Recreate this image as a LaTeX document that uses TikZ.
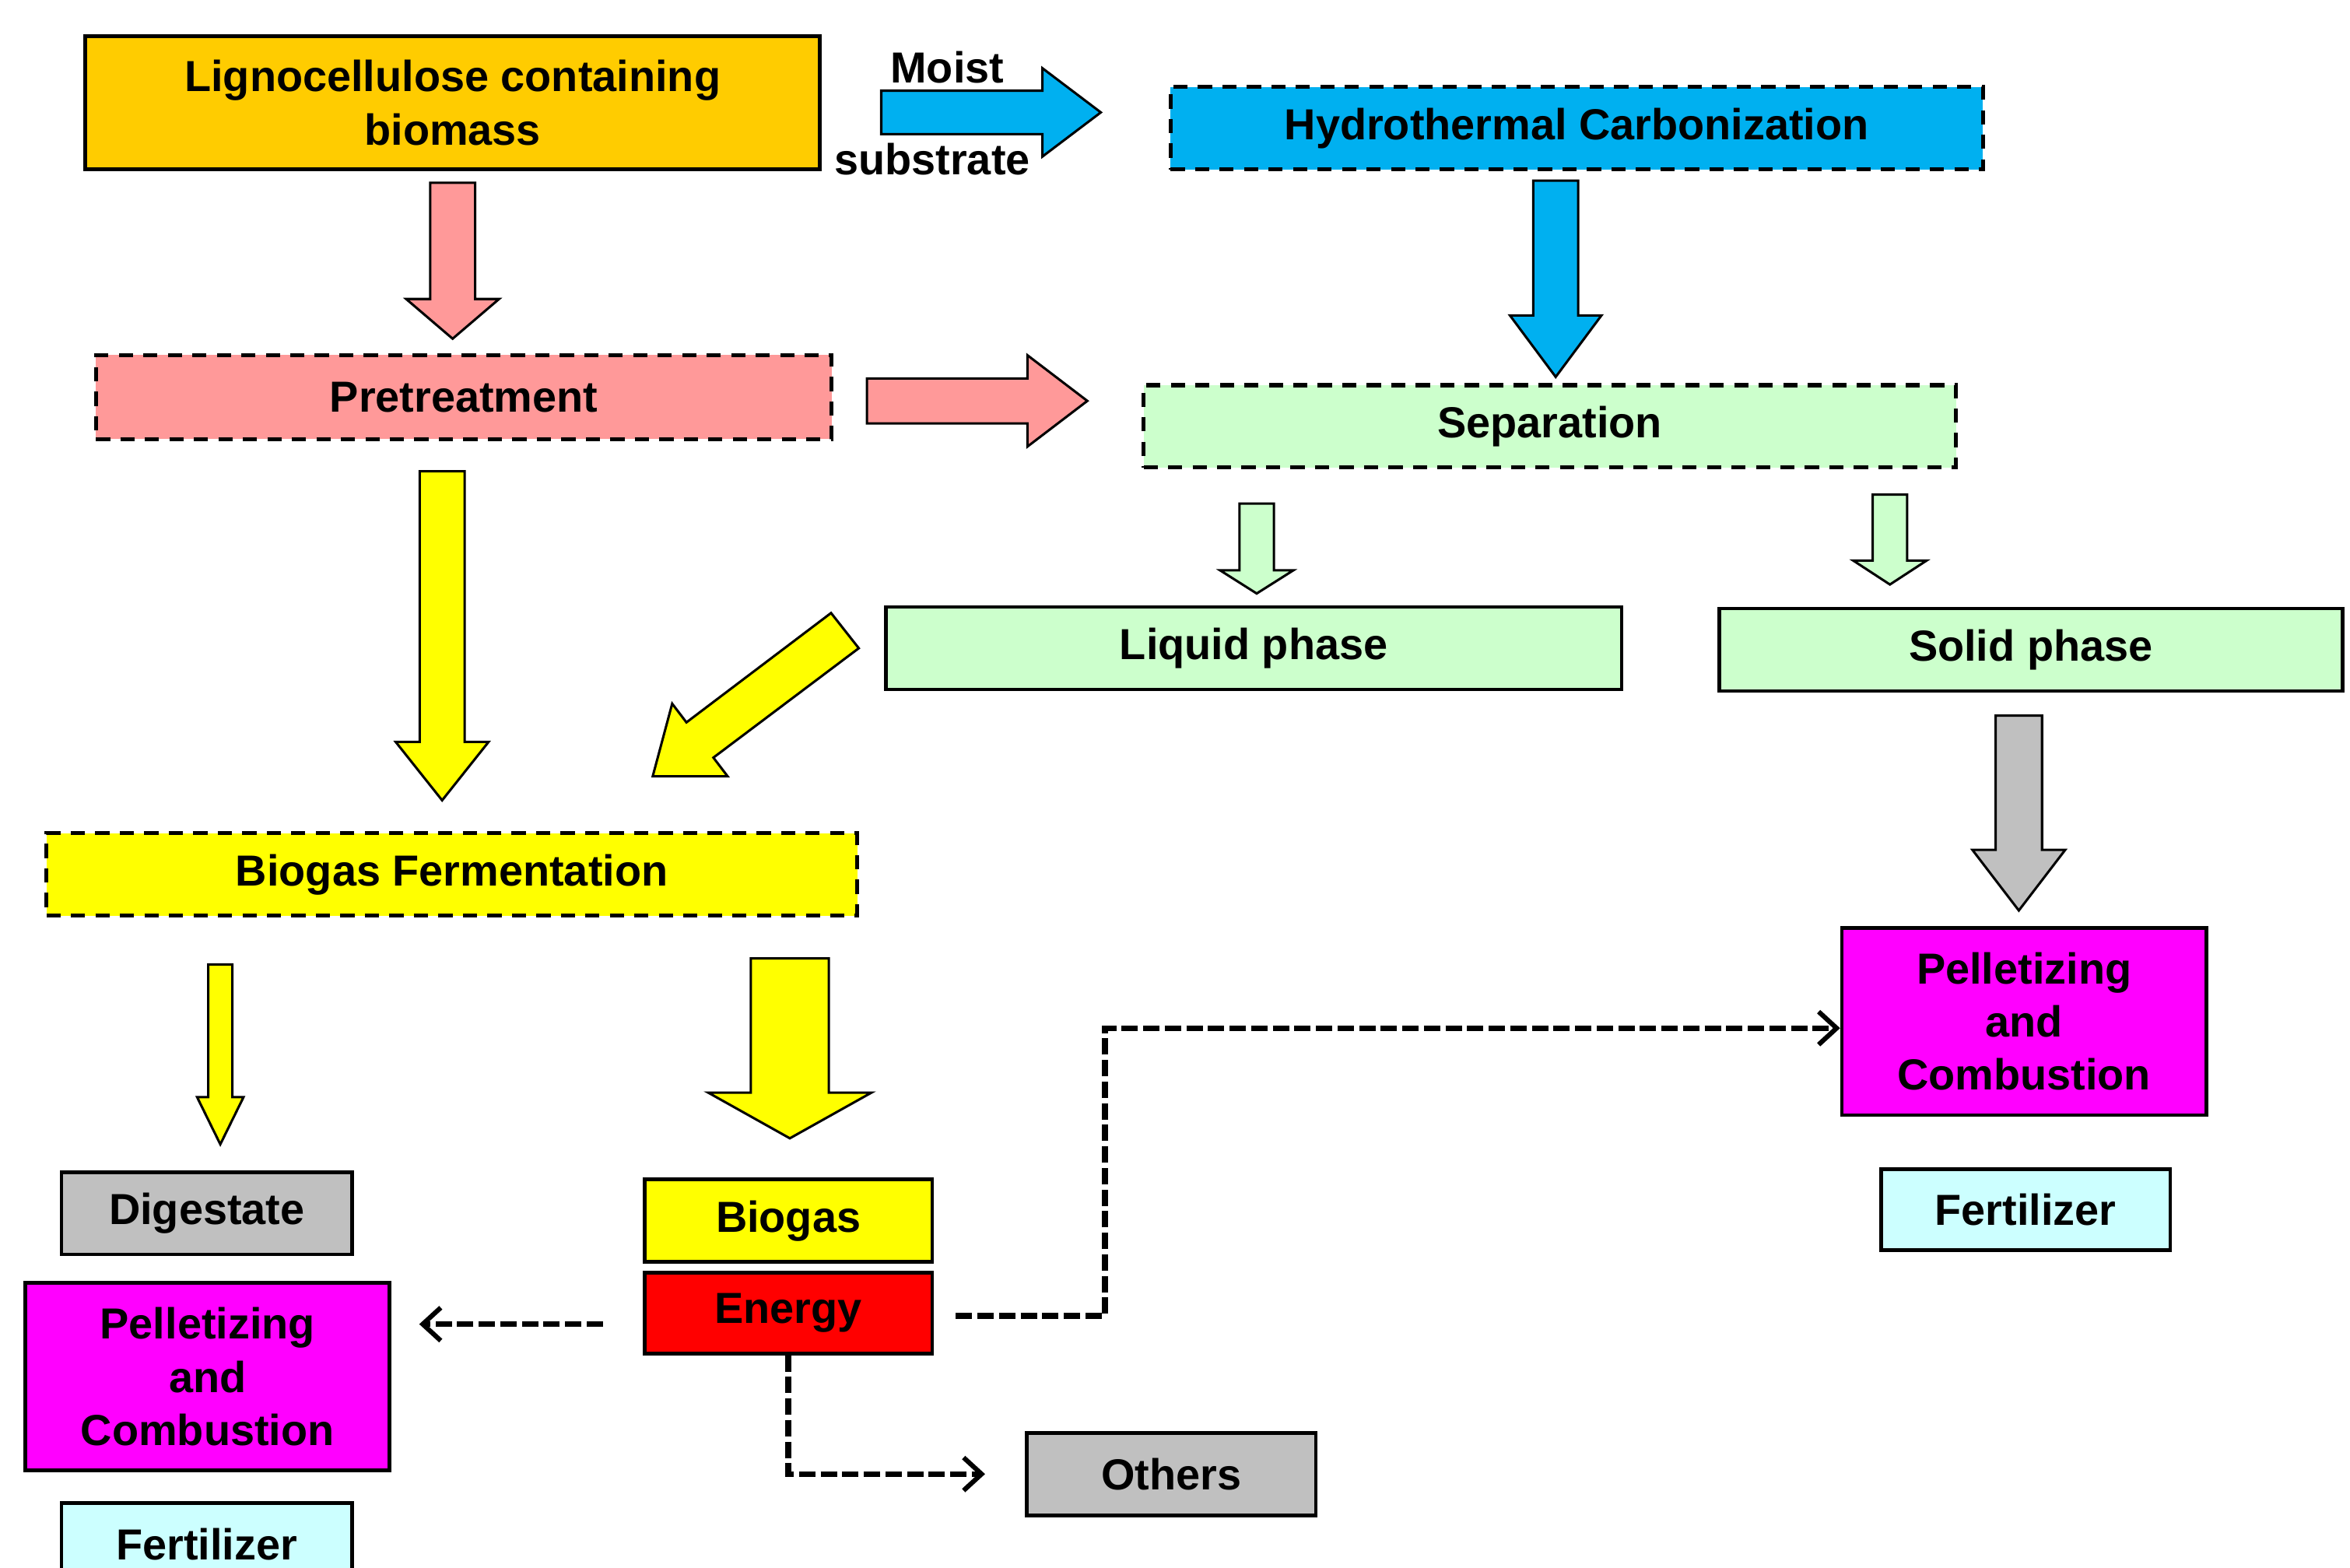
\documentclass[tikz,border=0pt]{standalone}
\usepackage{fontspec}
\setmainfont{Liberation Sans}
\usetikzlibrary{arrows.meta}

\definecolor{cGold}{HTML}{FFCC00}
\definecolor{cBlue}{HTML}{00B0F0}
\definecolor{cPink}{HTML}{FF9999}
\definecolor{cGreen}{HTML}{CCFFCC}
\definecolor{cYellow}{HTML}{FFFF00}
\definecolor{cGray}{HTML}{C0C0C0}
\definecolor{cRed}{HTML}{FF0000}
\definecolor{cMagenta}{HTML}{FF00FF}
\definecolor{cCyan}{HTML}{CCFFFF}

% block arrows: x, top, tip, half shaft, half head, head length, colour
\newcommand{\blockdown}[7]{%
  \filldraw[fill=#7, line width=0.9pt] ({#1-#4},#2) -- ({#1+#4},#2) -- ({#1+#4},{#3+#6}) -- ({#1+#5},{#3+#6})
    -- (#1,#3) -- ({#1-#5},{#3+#6}) -- ({#1-#4},{#3+#6}) -- cycle;}
% y, start, tip, half shaft, half head, head length, colour
\newcommand{\blockright}[7]{%
  \filldraw[fill=#7, line width=0.9pt] (#2,{#1+#4}) -- ({#3-#6},{#1+#4}) -- ({#3-#6},{#1+#5})
    -- (#3,#1) -- ({#3-#6},{#1-#5}) -- ({#3-#6},{#1-#4}) -- (#2,{#1-#4}) -- cycle;}

\begin{document}
\begin{tikzpicture}[
    box/.style={draw, line width=1.4pt, rectangle, inner sep=0pt, align=center,
                font=\bfseries\fontsize{16.5}{20.2}\selectfont},
    dbox/.style={box, line width=1.5pt, dash pattern=on 5.4pt off 3.9pt},
    conn/.style={line width=2.2pt, dash pattern=on 6.2pt off 2pt,
                 -{Straight Barb[length=0.24cm, width=0.44cm, line width=1.8pt]}},
    lbl/.style={font=\bfseries\fontsize{16.5}{20.2}\selectfont, inner sep=0pt}]
    \path[use as bounding box, clip] (0,0) rectangle (31.36,20.92);

    % boxes
    \node[box, fill=cGold, minimum width=9.8cm, minimum height=1.78cm] (biomass) at (6.04,19.55) {Lignocellulose containing\\biomass};
    \node[dbox, fill=cBlue, minimum width=10.84cm, minimum height=1.1cm] (htc) at (21.04,19.21) {Hydrothermal Carbonization};
    \node[dbox, fill=cPink, minimum width=9.82cm, minimum height=1.12cm] (pre) at (6.19,15.62) {Pretreatment};
    \node[dbox, fill=cGreen, minimum width=10.84cm, minimum height=1.1cm] (sep) at (20.68,15.23) {Separation};
    \node[box, fill=cGreen, minimum width=9.82cm, minimum height=1.1cm] (liquid) at (16.73,12.27) {Liquid phase};
    \node[box, fill=cGreen, minimum width=8.32cm, minimum height=1.1cm] (solid) at (27.10,12.25) {Solid phase};
    \node[dbox, fill=cYellow, minimum width=10.82cm, minimum height=1.1cm] (ferm) at (6.03,9.25) {Biogas Fermentation};
    \node[box, fill=cGray, minimum width=3.88cm, minimum height=1.1cm] (digestate) at (2.76,4.73) {Digestate};
    \node[box, fill=cYellow, minimum width=3.84cm, minimum height=1.1cm] (biogas) at (10.52,4.63) {Biogas};
    \node[box, fill=cRed, minimum width=3.84cm, minimum height=1.08cm] (energy) at (10.52,3.40) {Energy};
    \node[box, fill=cMagenta, minimum width=4.86cm, minimum height=2.5cm] (pelL) at (2.77,2.55) {Pelletizing\\and\\Combustion};
    \node[box, fill=cCyan, minimum width=3.88cm, minimum height=1.1cm] (fertL) at (2.76,0.31) {Fertilizer};
    \node[box, fill=cGray, minimum width=3.86cm, minimum height=1.1cm] (others) at (15.63,1.25) {Others};
    \node[box, fill=cMagenta, minimum width=4.86cm, minimum height=2.5cm] (pelR) at (27.01,7.29) {Pelletizing\\and\\Combustion};
    \node[box, fill=cCyan, minimum width=3.86cm, minimum height=1.08cm] (fertR) at (27.03,4.78) {Fertilizer};

    \node[lbl] (moist) at (12.64,20.02) {Moist};
    \node[lbl] (substrate) at (12.44,18.80) {substrate};

    % block arrows
    \foreach \x/\ya/\yb/\sw/\hw/\hl/\col in {6.04/18.48/16.40/0.30/0.62/0.53/cPink,
        20.76/18.51/15.89/0.30/0.61/0.82/cBlue, 5.90/14.63/10.24/0.30/0.62/0.78/cYellow,
        16.77/14.20/13.00/0.23/0.49/0.31/cGreen, 25.22/14.32/13.12/0.23/0.49/0.32/cGreen,
        26.94/11.37/8.77/0.31/0.62/0.81/cGray, 2.94/8.05/5.65/0.16/0.31/0.63/cYellow,
        10.54/8.13/5.73/0.52/1.09/0.61/cYellow}
        \blockdown{\x}{\ya}{\yb}{\sw}{\hw}{\hl}{\col};
    \blockright{19.42}{11.76}{14.69}{0.29}{0.59}{0.78}{cBlue}
    \blockright{15.57}{11.57}{14.51}{0.30}{0.61}{0.80}{cPink}
    \filldraw[fill=cYellow, line width=0.9pt] (11.09,12.74) -- (11.46,12.27) -- (9.52,10.81) -- (9.71,10.56)
        -- (8.71,10.56) -- (8.97,11.53) -- (9.16,11.28) -- cycle;

    % dashed connectors
    \draw[conn, shorten <=0.53cm, shorten >=0.37cm] ([yshift=-0.15cm]energy.west) -- ([yshift=-0.15cm]energy.west -| pelL.east);
    \draw[conn, shorten <=0.29cm] ([yshift=-0.04cm]energy.east) -- ++(2.28,0) |- ([yshift=-0.09cm]pelR.west);
    \draw[conn, shorten >=0.53cm] (energy.south) |- (others.west);
\end{tikzpicture}
\end{document}
